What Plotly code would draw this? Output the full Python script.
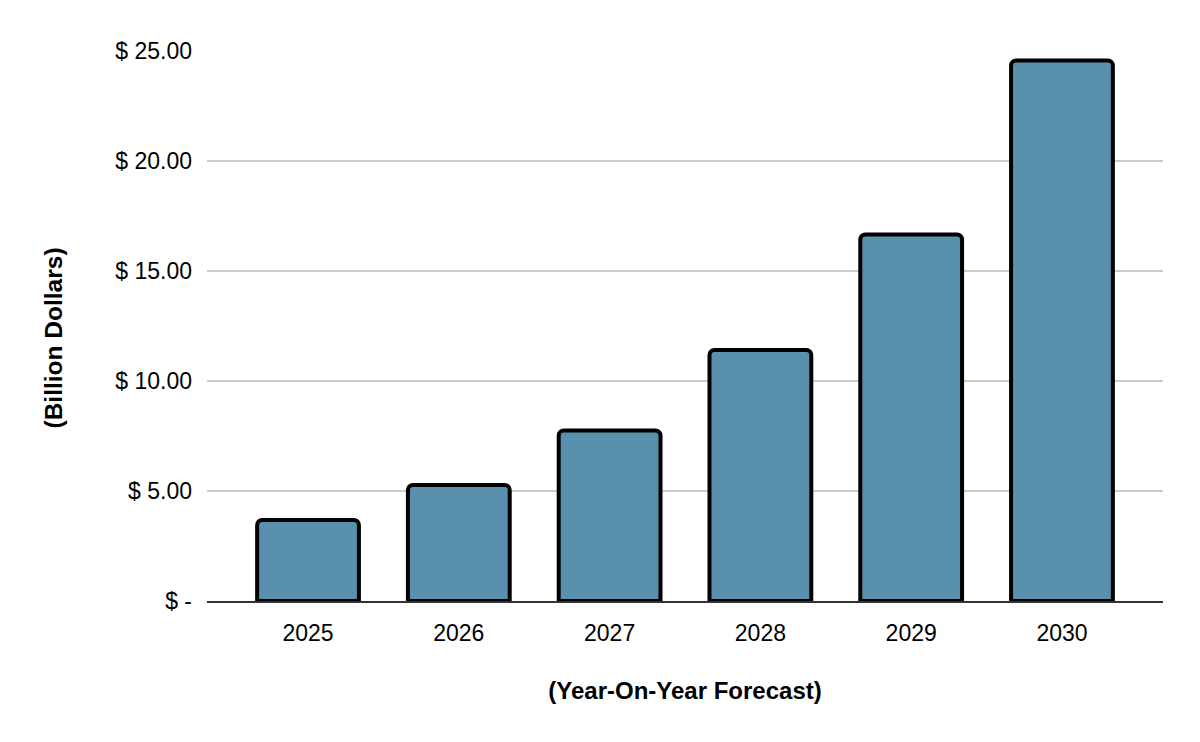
import plotly.graph_objects as go

years = ["2025", "2026", "2027", "2028", "2029", "2030"]
values = [3.68, 5.27, 7.75, 11.41, 16.66, 24.57]
tick_vals = [0, 5, 10, 15, 20, 25]
tick_text = ["$ -", "$ 5.00", "$ 10.00", "$ 15.00", "$ 20.00", "$ 25.00"]

fig = go.Figure(go.Bar(
    x=years, y=values,
    width=0.675,
    marker=dict(color="#5990AE", line=dict(color="#000000", width=4), cornerradius=5),
))

fig.update_layout(
    width=1200, height=742,
    margin=dict(l=207, r=37, t=51, b=141),
    paper_bgcolor="white", plot_bgcolor="white",
    font=dict(family="Liberation Sans, Arial, sans-serif", size=23, color="#000"),
    showlegend=False,
    annotations=[dict(
        text="<b>(Billion Dollars)</b>", textangle=-90,
        xref="paper", yref="paper",
        x=(53 - 207) / 956, y=(601 - 338.5) / 550,
        xanchor="center", yanchor="middle", showarrow=False,
        font=dict(size=24.5),
    )],
)
fig.update_xaxes(
    type="category", range=[-0.67, 5.67],
    showline=True, linecolor="#333333", linewidth=2,
    showgrid=False, ticks="", ticklabelstandoff=10,
    title=dict(text="<b>(Year-On-Year Forecast)</b>", standoff=38, font=dict(size=24)),
)
fig.update_yaxes(
    range=[0, 25], tickvals=tick_vals, ticktext=tick_text,
    showgrid=True, gridcolor="#cccccc", gridwidth=2,
    zeroline=False, showline=False, ticks="", ticklabelstandoff=14,
)
fig.write_html("out.html")
